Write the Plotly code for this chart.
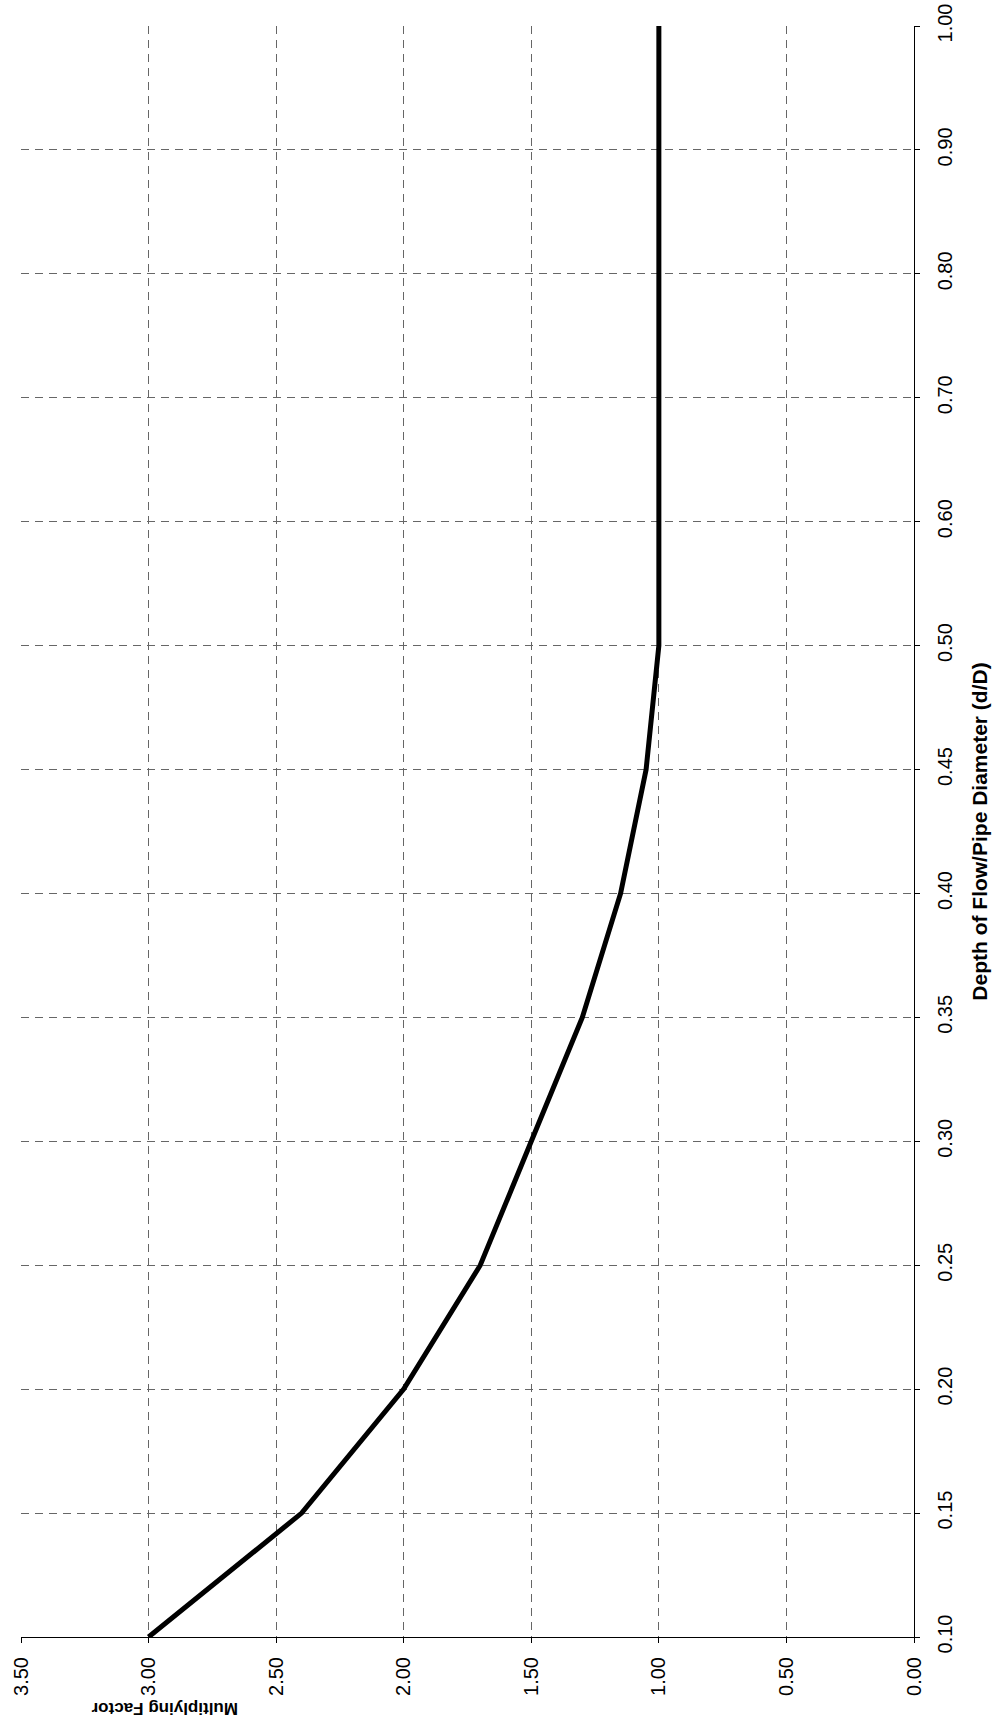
import plotly.graph_objects as go

depth_labels = ["0.10", "0.15", "0.20", "0.25", "0.30", "0.35", "0.40", "0.45",
                "0.50", "0.60", "0.70", "0.80", "0.90", "1.00"]
multiplying_factor = [3.00, 2.40, 2.00, 1.70, 1.50, 1.30, 1.15, 1.05,
                      1.00, 1.00, 1.00, 1.00, 1.00, 1.00]
factor_ticks = [0.0, 0.5, 1.0, 1.5, 2.0, 2.5, 3.0, 3.5]

FONT = "Liberation Sans, Arial, sans-serif"

fig = go.Figure()
fig.add_trace(go.Scatter(
    x=multiplying_factor, y=depth_labels, mode="lines",
    line=dict(color="black", width=5), showlegend=False,
))

fig.update_layout(
    width=997, height=1735,
    margin=dict(l=21, r=83, t=26, b=98),
    paper_bgcolor="white", plot_bgcolor="white",
    font=dict(family=FONT, size=20, color="black"),
    xaxis=dict(
        range=[3.5, 0], tickvals=factor_ticks, tickformat=".2f",
        tickangle=-90, ticks="outside", ticklen=5, tickcolor="black",
        ticklabelstandoff=6,
        showline=True, linecolor="black", linewidth=1,
        showgrid=True, gridcolor="#666666", gridwidth=1, griddash="8px,6px",
        zeroline=False, tickfont=dict(size=20), automargin=False,
    ),
    yaxis=dict(
        type="category", categoryorder="array", categoryarray=depth_labels,
        range=[0, len(depth_labels) - 1], side="right",
        tickangle=-90, ticks="outside", ticklen=5, tickcolor="black",
        ticklabelstandoff=8,
        showline=True, linecolor="black", linewidth=1,
        showgrid=True, gridcolor="#666666", gridwidth=1, griddash="8px,6px",
        zeroline=False, tickfont=dict(size=20), automargin=False,
        title=dict(text="<b>Depth of Flow/Pipe Diameter (d/D)</b>",
                   font=dict(size=21), standoff=17),
    ),
)

fig.add_annotation(
    text="<b>Multiplying Factor</b>", textangle=180,
    xref="paper", yref="paper", x=(165 - 21) / (914 - 21), y=-(1709 - 1637) / (1637 - 26),
    showarrow=False, font=dict(size=17, family=FONT, color="black"),
    xanchor="center", yanchor="middle",
)

fig.write_html("out.html", config={"displayModeBar": False})

with open("out.html", "r", encoding="utf-8") as f:
    html = f.read()
html = html.replace("<head>", "<head><style>html,body{margin:0;padding:0;overflow:hidden;}</style>", 1)
with open("out.html", "w", encoding="utf-8") as f:
    f.write(html)
